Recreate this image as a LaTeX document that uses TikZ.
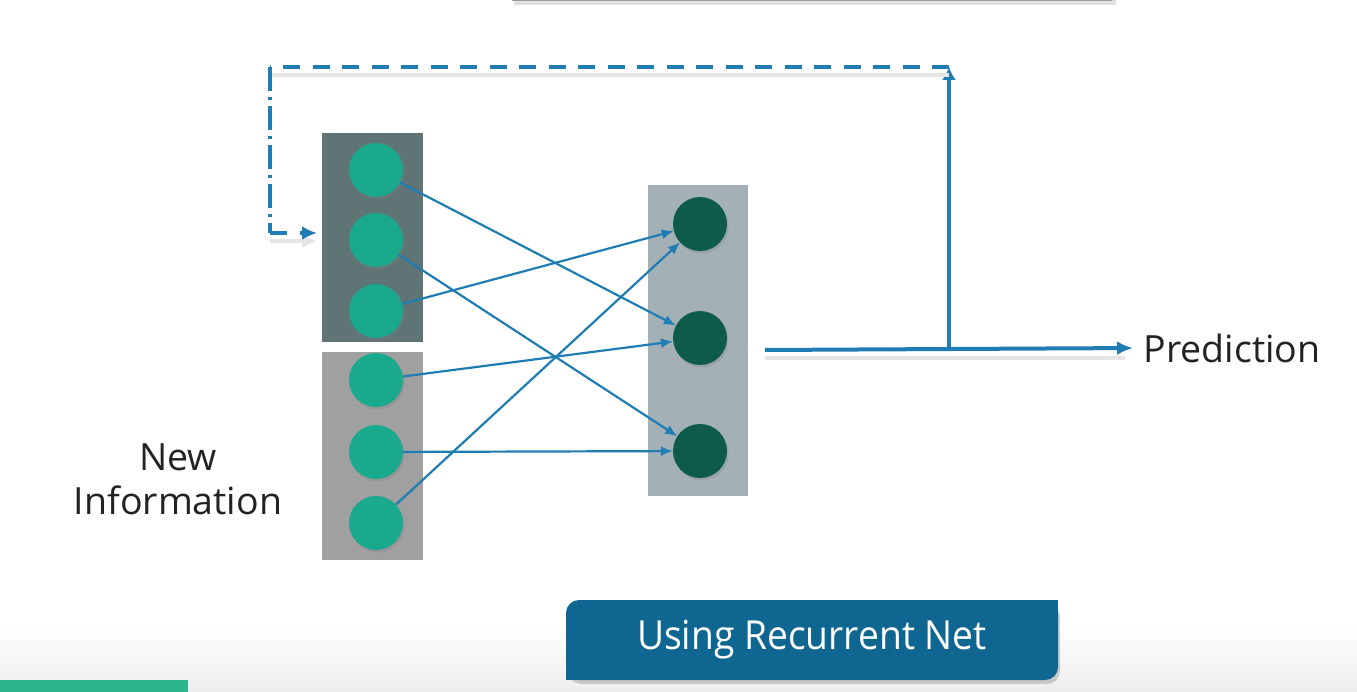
\documentclass[tikz,border=0pt]{standalone}
\usepackage{fontspec}
\setmainfont{Open Sans}
\newfontfamily\condfont[FakeStretch=0.93]{Open Sans}
\usetikzlibrary{arrows.meta,shadows}

\definecolor{inteal}{HTML}{1BA98E}
\definecolor{outgreen}{HTML}{0E5B4B}
\definecolor{linkblue}{HTML}{1F7DB4}
\definecolor{memgray}{HTML}{5F7474}
\definecolor{newgray}{HTML}{A0A0A0}
\definecolor{hidgray}{HTML}{A3B1B6}
\definecolor{btnblue}{HTML}{0F6690}
\definecolor{barteal}{HTML}{2DB58C}
\definecolor{txtgray}{HTML}{222222}

\begin{document}
\begin{tikzpicture}[x=1pt, y=-1pt,
        group/.style={inner sep=0pt, minimum width=101pt},
        innode/.style={circle, fill=inteal, inner sep=0pt, minimum size=54pt,
            drop shadow={opacity=0.3, shadow xshift=1.5pt, shadow yshift=-2.5pt}},
        outnode/.style={innode, fill=outgreen},
        link/.style={linkblue, line width=2.2pt, -{Latex[length=12pt,width=10pt]}},
        feed/.style={linkblue, line width=4.5pt, dash pattern=on 17pt off 12.5pt,
            preaction={draw=black!10, line width=4.5pt, transform canvas={yshift=-8pt}}},
        feedtip/.style={-{Latex[length=15pt,width=14pt]}},
        label/.style={txtgray, font=\fontsize{37.5}{44}\selectfont, align=center}]
    \useasboundingbox (0,0) rectangle (1357,692);
    \fill[white] (0,0) rectangle (1357,692);
    \shade[top color=white, bottom color=black!7] (0,625) rectangle (1357,692);

    % box cut off at the top
    \fill[black!12] (514,-6) rectangle (1116,5);
    \fill[white] (512,-30) rectangle (1112,0);
    \draw[black!40, line width=2pt] (512,0) -- (1112,0);

    % layers
    \node (mem) [group, fill=memgray, minimum height=209pt] at (372.5,237.5) {};
    \node (new) [group, fill=newgray, minimum height=208pt] at (372.5,456) {};
    \node (hid) [group, fill=hidgray, minimum width=100pt, minimum height=311pt] at (698,340.5) {};

    \node (in1) [innode] at (376,170) {};
    \node (in2) [innode] at (376,240) {};
    \node (in3) [innode] at (376,311) {};
    \node (in4) [innode] at (376,380) {};
    \node (in5) [innode] at (376,452) {};
    \node (in6) [innode] at (376,523) {};

    \node (out1) [outnode] at (700,224) {};
    \node (out2) [outnode] at (700,338) {};
    \node (out3) [outnode] at (700,451) {};

    \draw[link] (in1) -- (out2);
    \draw[link] (in2) -- (out3);
    \draw[link] (in3) -- (out1);
    \draw[link] (in4) -- (out2);
    \draw[link] (in5) -- (out3);
    \draw[link] (in6) -- (out1);

    % output and feedback
    \coordinate (start) at (765,350);
    \coordinate (jn) at (949,350);
    \coordinate (top) at (949,67);
    \coordinate (corner) at (270,67);
    \coordinate (bend) at (270,233);
    \coordinate (back) at (317,233);
    \node (pred) [label, anchor=west] at (1140,348) {Prediction};

    \draw[black!10, line width=4pt] (765,358) -- (1125,358);
    \draw[linkblue, line width=4pt, shorten >=7pt, -{Latex[length=16pt,width=14pt]}] (start) -- (pred.west);
    \draw[linkblue, line width=3.5pt, -{Latex[length=13pt,width=14pt]}] (jn) -- (top);
    \draw[feed] (top) -- (corner);
    \draw[linkblue, line width=3.5pt, dash pattern=on 24pt off 6pt on 3pt off 6pt] (corner) -- (bend);
    \draw[feed, feedtip, dash pattern=on 17pt off 13pt] (bend) -- (back);

    \node (info) [label] at (178,479) {New\\Information};

    % caption button
    \node (btn) [fill=btnblue, rounded corners=13pt, minimum width=492pt, minimum height=80pt,
        drop shadow={opacity=0.35, shadow xshift=2pt, shadow yshift=-4pt}] at (812,640) {};
    \fill[btnblue] (1030,600) rectangle (1058,630);
    \fill[btnblue] (566,650) rectangle (596,680);
    \node (btntext) [white, font=\condfont\fontsize{40}{44}\selectfont] at (btn) {Using Recurrent Net};

    \fill[barteal] (0,680) rectangle (188,692);
\end{tikzpicture}
\end{document}
